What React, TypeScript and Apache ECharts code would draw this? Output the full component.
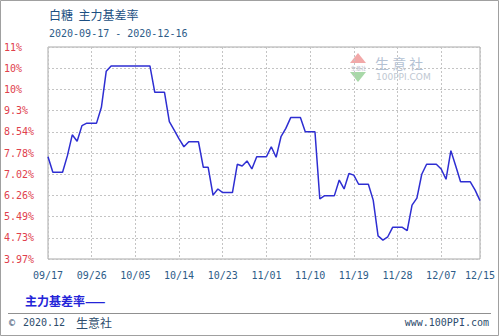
import React, { useEffect, useRef } from "react";
import * as echarts from "echarts";

const TITLE = "白糖  主力基差率";
const DATE_RANGE = "2020-09-17 - 2020-12-16";
const SERIES_NAME = "主力基差率";

const DATES = [
  "09/17","09/18","09/19","09/20","09/21","09/22","09/23","09/24","09/25","09/26","09/27","09/28","09/29","09/30",
  "10/01","10/02","10/03","10/04","10/05","10/06","10/07","10/08","10/09","10/10","10/11","10/12","10/13","10/14",
  "10/15","10/16","10/17","10/18","10/19","10/20","10/21","10/22","10/23","10/24","10/25","10/26","10/27","10/28",
  "10/29","10/30","10/31",
  "11/01","11/02","11/03","11/04","11/05","11/06","11/07","11/08","11/09","11/10","11/11","11/12","11/13","11/14",
  "11/15","11/16","11/17","11/18","11/19","11/20","11/21","11/22","11/23","11/24","11/25","11/26","11/27","11/28",
  "11/29","11/30",
  "12/01","12/02","12/03","12/04","12/05","12/06","12/07","12/08","12/09","12/10","12/11","12/12","12/13","12/14",
  "12/15",
];

const BASIS_RATE = [
  7.65, 7.09, 7.09, 7.09, 7.69, 8.44, 8.21, 8.77, 8.86, 8.86, 8.86, 9.43, 10.73, 10.92,
  10.92, 10.92, 10.92, 10.92, 10.92, 10.92, 10.92, 10.92,
  9.97, 9.97, 9.97, 8.91, 8.61, 8.29, 8.01, 8.19, 8.19, 8.19, 7.27, 7.27, 6.27, 6.49,
  6.36, 6.36, 6.36, 7.38, 7.32, 7.5, 7.21, 7.65, 7.65, 7.65, 8.01, 7.63, 8.37, 8.67,
  9.06, 9.06, 9.06, 8.55, 8.55, 8.55, 6.13, 6.25, 6.25, 6.25, 6.81, 6.49, 7.05, 6.99,
  6.66, 6.66, 6.66, 6.09, 4.8, 4.65, 4.77, 5.11, 5.11, 5.11, 4.99, 5.91, 6.16, 7.02,
  7.38, 7.38, 7.38, 7.21, 6.84, 7.87, 7.32, 6.75, 6.75, 6.75, 6.45, 6.07,
];

const Y_MIN = 3.97;
const Y_STEP = 0.763;
const Y_LABELS = ["3.97%", "4.73%", "5.49%", "6.26%", "7.02%", "7.78%", "8.54%", "9.3%", "10%", "10%", "11%"];

const MONO = "'DejaVu Sans Mono', 'Liberation Mono', monospace";
const CJK = "'Noto Sans CJK SC', sans-serif";

export default function App() {
  const ref = useRef<HTMLDivElement>(null);

  useEffect(() => {
    if (!ref.current) return;
    const chart = echarts.init(ref.current, undefined, { renderer: "svg" });
    const lastIdx = DATES.length - 1;
    const showTick = (i: number) => i % 9 === 0 || i === lastIdx;
    chart.setOption({
      animation: false,
      backgroundColor: "#ffffff",
      grid: {
        left: 48,
        top: 47,
        right: 19,
        bottom: 77,
        show: true,
        borderColor: "#a8a8a8",
        borderWidth: 1,
        backgroundColor: "transparent",
      },
      legend: {
        show: true,
        left: 15,
        top: 289,
        icon: "none",
        itemWidth: 0,
        itemHeight: 0,
        data: [SERIES_NAME],
        formatter: (name: string) => name + "——",
        textStyle: { color: "#2424d8", fontSize: 12, fontFamily: CJK, fontWeight: "bold" },
      },
      xAxis: {
        type: "category",
        data: DATES,
        boundaryGap: false,
        axisLine: { show: false },
        axisTick: { show: false },
        axisLabel: {
          interval: (i: number) => showTick(i),
          color: "#2d5c88",
          fontSize: 10,
          fontFamily: MONO,
          margin: 11,
        },
        splitLine: {
          show: true,
          interval: (i: number) => showTick(i),
          lineStyle: { color: "#c4c4c4", type: [2, 2], width: 1 },
        },
      },
      yAxis: {
        type: "value",
        min: Y_MIN,
        max: Y_MIN + Y_STEP * 10,
        interval: Y_STEP,
        axisLine: { show: false },
        axisTick: { show: false },
        axisLabel: {
          align: "left",
          margin: 44,
          color: "#e0404c",
          fontSize: 10,
          fontFamily: MONO,
          formatter: (v: number) => {
            const k = Math.round((v - Y_MIN) / Y_STEP);
            return Y_LABELS[k] ?? "";
          },
        },
        splitLine: {
          show: true,
          lineStyle: { color: "#c4c4c4", type: [2, 2], width: 1 },
        },
      },
      graphic: [
        { type: "rect", silent: true, z: -10, shape: { x: 0.5, y: 0.5, width: 498, height: 335 }, style: { fill: "none", stroke: "#a0a0a0", lineWidth: 1 } },
        { type: "text", x: 49, y: 14, style: { text: TITLE, fill: "#1b4f82", font: `12px ${CJK}`, verticalAlign: "middle" } },
        { type: "text", x: 49, y: 33, style: { text: DATE_RANGE, fill: "#2d5c88", font: `10px ${MONO}`, verticalAlign: "middle" } },
        // watermark
        { type: "polygon", silent: true, z: -5, shape: { points: [[350, 63], [358, 53], [366, 63]] }, style: { fill: "#f2a8a8" } },
        { type: "polygon", silent: true, z: -5, shape: { points: [[350, 72], [366, 72], [358, 82]] }, style: { fill: "#a8d8a8" } },
        { type: "text", silent: true, z: -5, x: 351, y: 67.5, style: { text: "生意社", fill: "#b8b8c8", font: `5px ${CJK}`, verticalAlign: "middle", lineHeight: 5 } },
        { type: "text", silent: true, z: -5, x: 375, y: 63, style: { text: "生 意 社", fill: "#b4c2d4", font: `14px ${CJK}`, verticalAlign: "middle", lineHeight: 14 } },
        { type: "text", silent: true, z: -5, x: 376, y: 77, style: { text: "100PPI.COM", fill: "#c0c8d2", font: `9px 'DejaVu Sans', sans-serif`, verticalAlign: "middle", lineHeight: 9 } },
        // footer
        { type: "line", silent: true, shape: { x1: 8, y1: 313.5, x2: 491, y2: 313.5 }, style: { stroke: "#909090", lineWidth: 1 } },
        { type: "text", x: 9, y: 322, style: { text: "©", fill: "#2d4c6c", font: `10px ${MONO}`, verticalAlign: "middle" } },
        { type: "text", x: 23, y: 322, style: { text: "2020.12", fill: "#2d4c6c", font: `10px ${MONO}`, verticalAlign: "middle" } },
        { type: "text", x: 76, y: 322, style: { text: "生意社", fill: "#2d4c6c", font: `12px ${CJK}`, verticalAlign: "middle" } },
        { type: "text", x: 489, y: 322, style: { text: "www.100PPI.com", fill: "#2d4c6c", font: `10px ${MONO}`, verticalAlign: "middle", align: "right" } },
      ],
      series: [
        {
          name: SERIES_NAME,
          type: "line",
          data: BASIS_RATE,
          symbol: "none",
          lineStyle: { color: "#2e2ed2", width: 1.5 },
          itemStyle: { color: "#2e2ed2" },
          z: 5,
        },
      ],
    });
    return () => chart.dispose();
  }, []);

  return (
    <div
      ref={ref}
      style={{ position: "fixed", left: 0, top: 0, width: 499, height: 336, background: "#fff" }}
    />
  );
}
